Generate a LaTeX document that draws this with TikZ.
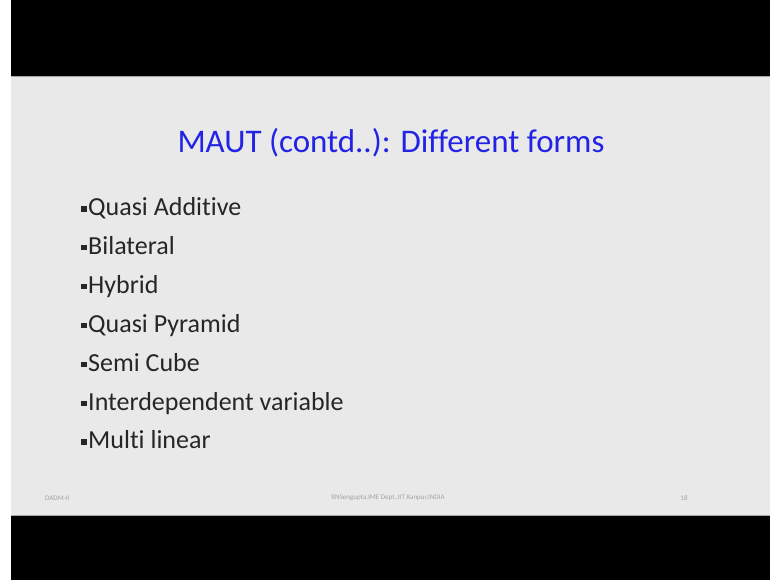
\documentclass[tikz,border=0pt]{standalone}
\usepackage{fontspec}
\setmainfont[Ligatures=NoCommon]{Carlito}
\usetikzlibrary{positioning}
\definecolor{slidebg}{HTML}{E9E9E9}
\definecolor{titleblue}{HTML}{2323E6}
\definecolor{bodytext}{HTML}{262626}
\definecolor{footgray}{HTML}{A3A3A3}
\newcommand{\sqbullet}{\raisebox{4pt}{\rule{5.5pt}{5.5pt}}\hspace{1.5pt}}

\begin{document}
\begin{tikzpicture}[
  x=1pt, y=-1pt,
  item/.style={anchor=west, inner sep=0pt, text height=17pt, text depth=6pt, font=\fontsize{26}{30}\selectfont, text=bodytext},
  heading/.style={inner sep=0pt, font=\fontsize{33}{38}\selectfont, text=titleblue},
  foot/.style={inner sep=0pt, font=\fontsize{7}{8}\selectfont, text=footgray}
]

\useasboundingbox (0,0) rectangle (770,580);
\fill[white] (0,0) rectangle (770,580);
\fill[black] (11,0) rectangle (770,580);
\fill[slidebg] (11,77) rectangle (770,515);
\draw[gray!70, line width=1pt] (11,77) -- (770,77);
\draw[gray!70, line width=1pt] (11,515) -- (770,515);

\node[heading] (title) at (391,143) {MAUT (contd..): Different forms};

\node[item] (qadd) at (81,210) {\sqbullet Quasi Additive};
\node[item, below=15.5pt of qadd.south west, anchor=north west] (bilat) {\sqbullet Bilateral};
\node[item, below=15.5pt of bilat.south west, anchor=north west] (hybrid) {\sqbullet Hybrid};
\node[item, below=15.5pt of hybrid.south west, anchor=north west] (qpyr) {\sqbullet Quasi Pyramid};
\node[item, below=15.5pt of qpyr.south west, anchor=north west] (semicube) {\sqbullet Semi Cube};
\node[item, below=15.5pt of semicube.south west, anchor=north west] (interdep) {\sqbullet Interdependent variable};
\node[item, below=15.5pt of interdep.south west, anchor=north west] (multilin) {\sqbullet Multi linear};

\node[foot, anchor=west] (course) at (45,498) {DADM-II};
\node[foot] (author) at (388,498) {RNSengupta,IME Dept.,IIT Kanpur,INDIA};
\node[foot] (pageno) at (684,498) {18};

\end{tikzpicture}
\end{document}
